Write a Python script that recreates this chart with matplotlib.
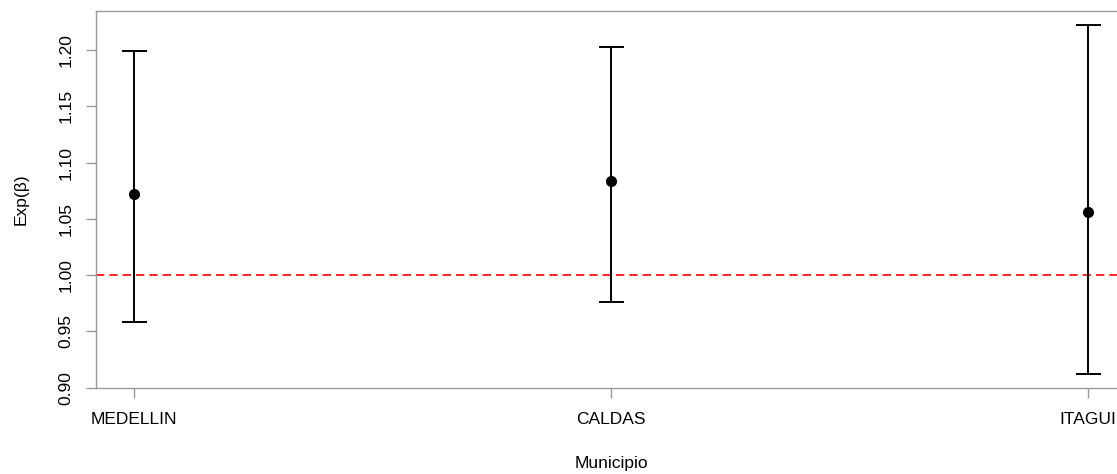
import numpy as np
import matplotlib
matplotlib.use("Agg")
import matplotlib.pyplot as plt

# values
municipios = ["MEDELLIN", "CALDAS", "ITAGUI"]
exp_beta = [1.072, 1.084, 1.056]
ic_inf = [0.958, 0.976, 0.912]
ic_sup = [1.199, 1.203, 1.222]
y_ticks = [0.90, 0.95, 1.00, 1.05, 1.10, 1.15, 1.20]

plt.rcParams['font.family'] = ['Liberation Sans', 'DejaVu Sans']

fig = plt.figure(figsize=(11.17, 4.74), dpi=100)
ax = fig.add_axes([96/1117, 1 - 388.3/474, 1030/1117, (388.3 - 11)/474])

x = np.arange(1, len(municipios) + 1)
yerr = [np.array(exp_beta) - np.array(ic_inf), np.array(ic_sup) - np.array(exp_beta)]
ax.errorbar(x, exp_beta, yerr=yerr, fmt='o', color='black', ms=7,
            elinewidth=1.4, capsize=9, capthick=1.4, zorder=3)
ax.axhline(1.0, color='red', ls=(0, (5, 3)), lw=1.2, zorder=2)

ax.set_xlim(0.92, 3.08)
ax.set_ylim(0.8995, 1.2346)
ax.set_xticks(x)
ax.set_xticklabels(municipios)
ax.set_yticks(y_ticks)
ax.set_yticklabels(["%.2f" % v for v in y_ticks], rotation=90, va='center')

ax.spines['right'].set_visible(False)
for s in ax.spines.values():
    s.set_color('#999999')
    s.set_linewidth(1.0)
ax.tick_params(colors='#999999', labelcolor='black', length=7, width=1.0,
               labelsize=12.5)
ax.tick_params(axis='x', pad=10)
ax.tick_params(axis='y', pad=9)

ax.set_xlabel("Municipio", fontsize=12.5, labelpad=21)
ax.set_ylabel("Exp(β)", fontsize=12.5, labelpad=22)

fig.savefig("out.png", dpi=100)
